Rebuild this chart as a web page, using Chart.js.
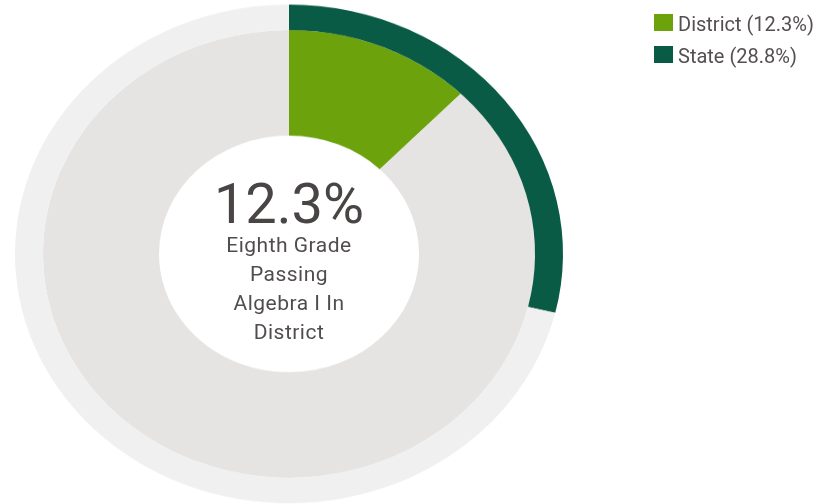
<!DOCTYPE html>
<html>
<head>
<meta charset="utf-8">
<script src="https://cdn.jsdelivr.net/npm/chart.js@4.4.1/dist/chart.umd.min.js"></script>
<style>
  html, body { margin: 0; padding: 0; background: #ffffff; }
  #wrap { position: relative; width: 824px; height: 504px; overflow: hidden; font-family: Roboto, "DejaVu Sans", sans-serif; }
  #squash { position: absolute; left: 0; top: 0; width: 824px; height: 554px; transform: scaleY(0.91); transform-origin: 0 0; }
  #c { display: block; }
  #center { position: absolute; left: 139px; width: 300px; text-align: center; color: #4a4545; }
  #bigValue { position: absolute; left: 0; width: 300px; top: 176px; font-size: 56px; line-height: 56px; }
  .cap { position: absolute; left: 0; width: 300px; font-size: 21px; line-height: 29px; color: #524d4d; letter-spacing: 0.5px; }
  #legend { position: absolute; left: 654px; top: 0; }
  .lg { position: absolute; left: 0; white-space: nowrap; font-size: 20px; line-height: 24px; color: #555050; }
  .lg .box { position: absolute; left: 0; width: 19px; height: 17px; }
  .lg .txt { position: absolute; left: 24px; top: 0; }
</style>
</head>
<body>
<div id="wrap">
  <div id="squash"><canvas id="c" width="824" height="554"></canvas></div>
  <div id="center"></div>
  <div id="legend"></div>
</div>
<script>
// ---- data ----
const seriesNames = ['District', 'State'];
const districtValues = [12.3, 87.7];   // passing, remainder
const stateValues = [28.8, 71.2];      // passing, remainder
const sliceLabels = ['Passing', 'Not passing'];
const centerValue = '12.3%';
const centerCaption = ['Eighth Grade', 'Passing', 'Algebra I In', 'District'];

// ---- styles ----
const districtColors = ['#6ca20b', '#e6e3e3'];
const stateColors = ['#0a5b45', '#f1f0f0'];

const chart = new Chart(document.getElementById('c'), {
  type: 'doughnut',
  data: {
    labels: sliceLabels,
    datasets: [
      { label: seriesNames[1], data: stateValues, backgroundColor: stateColors, borderWidth: 0, hoverOffset: 0, weight: 28 },
      { label: seriesNames[0], data: districtValues, backgroundColor: districtColors, borderWidth: 0, hoverOffset: 0, weight: 116 }
    ]
  },
  options: {
    responsive: false,
    animation: false,
    cutout: 130,
    layout: { padding: { left: 15, top: 5, right: 261, bottom: 1 } },
    plugins: { legend: { display: false }, tooltip: { enabled: false } }
  }
});

// center text
const center = document.getElementById('center');
const big = document.createElement('div');
big.id = 'bigValue';
big.textContent = centerValue;
center.appendChild(big);
centerCaption.forEach((line, i) => {
  const d = document.createElement('div');
  d.className = 'cap';
  d.style.top = (231 + i * 29) + 'px';
  d.textContent = line;
  center.appendChild(d);
});

// legend built from the chart data
const legend = document.getElementById('legend');
const legendItems = [
  { name: seriesNames[0], value: districtValues[0], color: districtColors[0] },
  { name: seriesNames[1], value: stateValues[0], color: stateColors[0] }
];
legendItems.forEach((it, i) => {
  const row = document.createElement('div');
  row.className = 'lg';
  row.style.top = (12 + i * 31.5) + 'px';
  const box = document.createElement('div');
  box.className = 'box';
  box.style.background = it.color;
  box.style.top = '2px';
  const txt = document.createElement('span');
  txt.className = 'txt';
  txt.textContent = it.name + ' (' + it.value + '%)';
  row.appendChild(box);
  row.appendChild(txt);
  legend.appendChild(row);
});
</script>
</body>
</html>
